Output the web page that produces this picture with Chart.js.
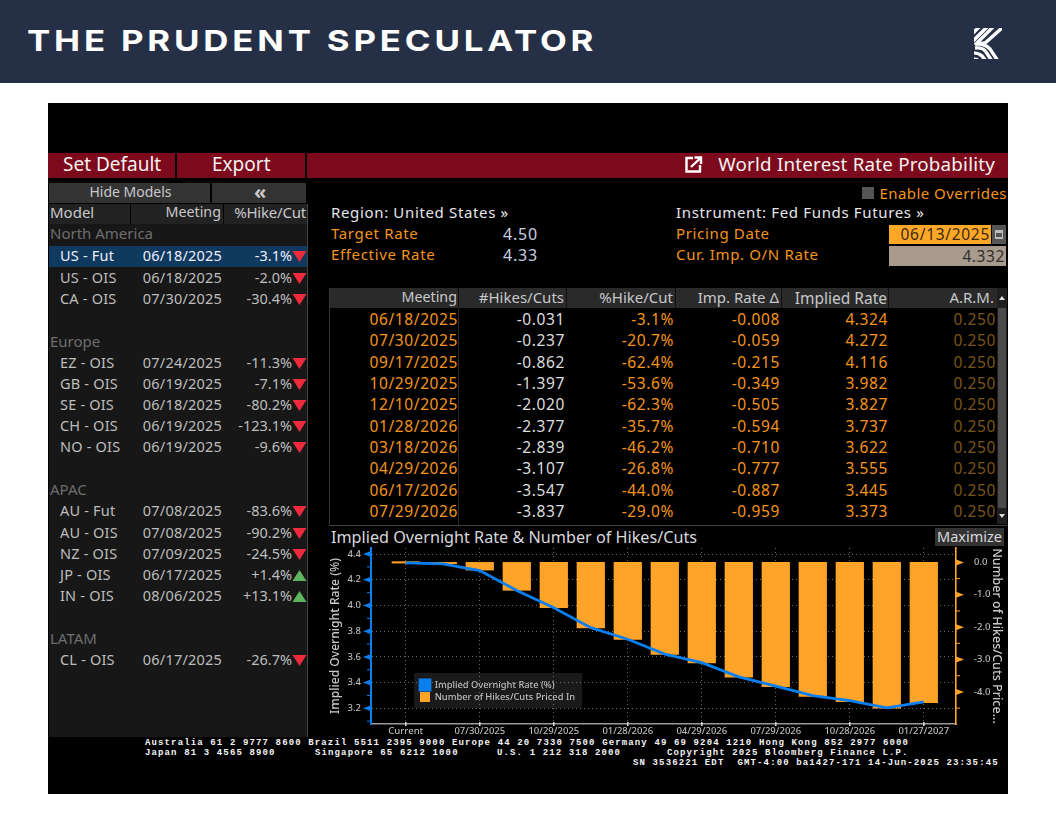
<!DOCTYPE html>
<html><head><meta charset="utf-8">
<script src="https://cdn.jsdelivr.net/npm/chart.js@4/dist/chart.umd.min.js"></script>
<style>
html,body{margin:0;padding:0;background:#fff;width:1056px;height:816px;overflow:hidden}
#hdr{position:absolute;left:0;top:0;width:1056px;height:83px;background:#252f46}
#brand{position:absolute;left:27px;top:22px;font:700 29px/38px Inter,sans-serif;color:#fff;letter-spacing:3.2px;white-space:nowrap;transform:scaleX(1.2);transform-origin:0 0}
#term{position:absolute;left:48px;top:103px;width:960px;height:691px;background:#000;overflow:hidden;filter:blur(.35px)}
#term .t{position:absolute;white-space:pre;font-family:"Noto Sans",sans-serif;line-height:20px;height:20px}
#term .b{position:absolute}
#cv{position:absolute;left:278px;top:442px;width:680px;height:193px}
</style></head><body>
<div id="hdr"><div id="brand">THE PRUDENT SPECULATOR</div>
<svg style="position:absolute;left:0;top:0" width="1056" height="83"><defs><clipPath id="k"><rect x="974" y="28" width="28" height="31"/></clipPath></defs>
<g clip-path="url(#k)" stroke="#fff" stroke-width="3.4" fill="none"><path d="M968 38L979 27M970 44L987 27M975 45L995 25M979 44Q985 44 990 49L998 61M975 48Q983 47 986 52L992 61M968 53Q978 52 982 56L986 61M970 58L978 60M1002 28L985 43L976 44"/></g></svg></div>
<div id="term"><canvas id="cv" width="680" height="193"></canvas></div>
<script>
/* ---- chart data ---- */
const categories=["Current","06/18/2025","07/30/2025","09/17/2025","10/29/2025","12/10/2025","01/28/2026","03/18/2026","04/29/2026","06/17/2026","07/29/2026","09/16/2026","10/28/2026","12/09/2026","01/27/2027"];
const impliedRate=[4.332,4.324,4.272,4.116,3.982,3.827,3.737,3.622,3.555,3.445,3.373,3.298,3.26,3.203,3.25];
const hikesCuts=[0,-0.031,-0.237,-0.862,-1.397,-2.02,-2.377,-2.839,-3.107,-3.547,-3.837,-4.14,-4.30,-4.50,-4.33];
const seriesNames=["Implied Overnight Rate (%)","Number of Hikes/Cuts Priced In"];
const leftTitle="Implied Overnight Rate (%)";
const rightTitle="Number of Hikes/Cuts Price...";
/* ---- table data ---- */
const meetings=["06/18/2025","07/30/2025","09/17/2025","10/29/2025","12/10/2025","01/28/2026","03/18/2026","04/29/2026","06/17/2026","07/29/2026"];
const tblHikes=["-0.031","-0.237","-0.862","-1.397","-2.020","-2.377","-2.839","-3.107","-3.547","-3.837"];
const tblPct=["-3.1%","-20.7%","-62.4%","-53.6%","-62.3%","-35.7%","-46.2%","-26.8%","-44.0%","-29.0%"];
const tblDelta=["-0.008","-0.059","-0.215","-0.349","-0.505","-0.594","-0.710","-0.777","-0.887","-0.959"];
const tblImplied=["4.324","4.272","4.116","3.982","3.827","3.737","3.622","3.555","3.445","3.373"];
const tblArm=["0.250","0.250","0.250","0.250","0.250","0.250","0.250","0.250","0.250","0.250"];
const tblHead=["Meeting","#Hikes/Cuts","%Hike/Cut","Imp. Rate Δ","Implied Rate","A.R.M."];
const modelNames=["US - Fut","US - OIS","CA - OIS","EZ - OIS","GB - OIS","SE - OIS","CH - OIS","NO - OIS","AU - Fut","AU - OIS","NZ - OIS","JP - OIS","IN - OIS","CL - OIS"];
const modelDates=["06/18/2025","06/18/2025","07/30/2025","07/24/2025","06/19/2025","06/18/2025","06/19/2025","06/19/2025","07/08/2025","07/08/2025","07/09/2025","06/17/2025","08/06/2025","06/17/2025"];
const modelPct=["-3.1%","-2.0%","-30.4%","-11.3%","-7.1%","-80.2%","-123.1%","-9.6%","-83.6%","-90.2%","-24.5%","+1.4%","+13.1%","-26.7%"];
const modelRowY=[256,278,299,363,384,405,426,447,511,533,554,575,596,660];
const regionNames=["North America","Europe","APAC","LATAM"];
const regionY=[234,342,490,639];

const T=document.getElementById('term');
const OX=48,OY=103;
function box(x,y,w,h,c){const d=document.createElement('div');d.className='b';d.style.cssText=`left:${x-OX}px;top:${y-OY}px;width:${w}px;height:${h}px;background:${c}`;T.appendChild(d);return d}
function txt(s,x,y,c,size,right,sp){const d=document.createElement('div');d.className='t';d.textContent=s;
 d.style.top=(y-OY-(size<15.3?11:10.4))+'px';d.style.color=c;d.style.fontSize=size+'px';if(sp)d.style.letterSpacing=sp+'px';
 if(right)d.style.right=(960-(x-OX))+'px';else d.style.left=(x-OX)+'px';T.appendChild(d);return d}
const OR='#f4941a',WH='#e6e6ea',GR='#c8c8cc',F=15,S=.65,D=.6;

/* top red bar */
box(48,153,127,25,'#7c0a1c');box(177,153,128,25,'#7c0a1c');box(307,153,701,25,'#7c0a1c');
txt('Set Default',63,164,'#f4f0f0',19);txt('Export',212,164,'#f4f0f0',19);
txt('World Interest Rate Probability',995,164,'#f4f0f0',18.8,true,.2);
T.insertAdjacentHTML('beforeend',`<svg style="position:absolute;left:${684-OX}px;top:${155-OY}px" width="20" height="20"><path d="M9 3H2.5V16.5H16V10" stroke="#fff" stroke-width="2.4" fill="none"/><path d="M7 12L16 3.5M10.5 2.5H17V9" stroke="#fff" stroke-width="2.4" fill="none"/></svg>`);

/* left panel */
box(49,204,258,533,'#171717');box(307,204,1,533,'#444');
box(49,183,161,20,'#333');box(212,183,94,20,'#333');
txt('Hide Models',130.5,193,GR,14).style.transform='translateX(-50%)';
txt('«',254,192,GR,20,false).style.fontWeight='700';
box(49,204,258,20,'#222');box(130,204,1,20,'#000');box(223,204,1,20,'#000');
txt('Model',50,213,GR,F);txt('Meeting',221,213,GR,14.3,true);txt('%Hike/Cut',306,213,GR,F,true,-.2);
box(49,246,258,21,'#0f3a5e');
regionNames.forEach((n,i)=>txt(n,50,regionY[i],'#6e6e6e',F));
modelNames.forEach((n,i)=>{const y=modelRowY[i],c=i==0?'#eef':'#bdbdbd';
 txt(n,60,y,c,14.5,false,.2);txt(modelDates[i],222,y,c,14.5,true,.2);
 txt(modelPct[i],292,y,c,14.5,true);
 const up=modelPct[i][0]=='+';
 T.insertAdjacentHTML('beforeend',`<svg style="position:absolute;left:${292-OX}px;top:${y-6-OY}px" width="15" height="13"><path d="${up?'M7.5 1L14.5 12H.5Z':'M.5 1H14.5L7.5 12Z'}" fill="${up?'#5fb55f':'#ee2a3c'}"/></svg>`);
});

/* info block */
txt('Region: United States »',331,213,WH,F,false,S);txt('Target Rate',331,234,OR,F,false,S);txt('Effective Rate',331,255,OR,F,false,S);
txt('4.50',538,234,'#c8d0e0',16,true,.8);txt('4.33',538,255,'#c8d0e0',16,true,.8);
txt('Instrument: Fed Funds Futures »',676,213,WH,F,false,S);txt('Pricing Date',676,234,OR,F,false,S);txt('Cur. Imp. O/N Rate',676,255,OR,F,false,S);
box(862,187,12,12,'#555');txt('Enable Overrides',1007,194,OR,F,true,.45);
box(889,225,102,19,'#ffa726');txt('06/13/2025',990,234,'#3a2a10',15.5,true,.7);
box(992,225,14,19,'#555');box(995,230,8,9,'#bbb');box(996,233,6,4,'#555');
box(889,246,117,20,'#a89a8c');txt('4.332',1005,256,'#2e2e2e',15.5,true,.6);

/* table */
box(330,288,677,20,'#2a2a2a');box(329,288,1,238,'#333');box(330,525,677,1,'#444');
[458,566,675,781,888].forEach(x=>box(x,288,1,20,'#111'));
box(458,308,1,217,'#2a2a2a');
const rights=[457,564,673,779,887,994];
const headSize=[14.3,15,15,15,15.5,15];
tblHead.forEach((h,i)=>txt(h,rights[i],298,GR,headSize[i],true));
const rowY=[319,340,362,383,404,426,447,468,490,511];
const cols=[[meetings,OR],[tblHikes,'#dcdcdc'],[tblPct,OR],[tblDelta,OR],[tblImplied,OR],[tblArm,'#7a5518']];
rowY.forEach((y,r)=>cols.forEach((c,j)=>txt(c[0][r],rights[j]+(j==5?2:1),y,c[1],15.5,true,D)));
box(997,288,10,236,'#1e1e1e');box(998,308,8,200,'#4a4a4a');
T.insertAdjacentHTML('beforeend',`<svg style="position:absolute;left:${998-OX}px;top:${294-OY}px" width="8" height="230"><path d="M1 6L4 2L7 6ZM1 220L4 224L7 220Z" fill="#ddd"/></svg>`);

/* chart head */
txt('Implied Overnight Rate & Number of Hikes/Cuts',331,537,'#d8d8dc',16.2);
box(935,528,69,18,'#333');txt('Maximize',969.5,537,'#d8d8dc',14.5).style.transform='translateX(-50%)';

/* footer */
const foot=[['Australia 61 2 9777 8600 Brazil 5511 2395 9000 Europe 44 20 7330 7500 Germany 49 69 9204 1210 Hong Kong 852 2977 6000',145,743.5],
['Japan 81 3 4565 8900',145,753.5],['Singapore 65 6212 1000',315,753.5],['U.S. 1 212 318 2000',497,753.5],['Copyright 2025 Bloomberg Finance L.P.',667,753.5],
['SN 3536221 EDT  GMT-4:00 ba1427-171 14-Jun-2025 23:35:45',633,763.5]];
foot.forEach(f=>{const d=txt(f[0],f[1],f[2],'#f4f4f4',9,false,1.13);d.style.fontFamily='"Liberation Mono",monospace';d.style.fontWeight='700';d.style.lineHeight='9px';d.style.height='9px';d.style.top=(f[2]-OY-4.5)+'px';});

/* chart */
const canvas=document.getElementById('cv');T.appendChild(canvas);
const BLUE='#0a7ff0',ORB='#ffa428';
const axisArt={id:'axisArt',afterDraw(ch){const c=ch.ctx;
 [['yL',-1,BLUE],['yR',1,ORB]].forEach(([id,dir,col])=>{const s=ch.scales[id],x=dir<0?s.right:s.left;
  c.save();c.fillStyle=col;c.strokeStyle=col;c.lineWidth=1;
  const tk=s.ticks.map(t=>t.value),d=tk[1]-tk[0];
  for(let v=tk[0]-d;v<=s.max;v+=d/2){ if(v<s.min)continue; const y=s.getPixelForValue(v);
   const major=tk.some(t=>Math.abs(t-v)<1e-6);
   if(major){c.beginPath();c.moveTo(x,y-3);c.lineTo(x,y+3);c.lineTo(x+dir*8,y);c.closePath();c.fill()}
   else{c.beginPath();c.moveTo(x,y);c.lineTo(x+dir*4,y);c.stroke()}
  }
  c.restore();});
 const xs=ch.scales.x;c.save();c.strokeStyle='#ddd';c.lineWidth=1.5;
 xs.ticks.forEach(t=>{const p=xs.getPixelForValue(t.value);c.beginPath();c.moveTo(p,xs.top-2);c.lineTo(p,xs.top+2);c.stroke()});c.restore();
}};
const legendBox={id:'legendBox',afterLayout(ch){const l=ch.legend;const w=l.width,h=l.height;
  l.left=92;l.top=133;l.right=l.left+w;l.bottom=l.top+h;}};
const legendBg={id:'legendBg',beforeDraw(ch){const c=ch.ctx;c.save();c.fillStyle='#1a1a1a';c.fillRect(414-326,673-545,168,35);c.restore()}};
const labelFont={family:'"Noto Sans",sans-serif',size:9.5,weight:'500'};
const noPad=s=>{s.paddingTop=0;s.paddingBottom=0;s.paddingLeft=0;s.paddingRight=0};
new Chart(canvas,{
 data:{datasets:[
  {type:'line',label:seriesNames[0],data:impliedRate.map((v,i)=>({x:i,y:v})),yAxisID:'yL',xAxisID:'x',borderColor:BLUE,backgroundColor:BLUE,borderWidth:2.8,pointRadius:0,tension:0,order:0},
  {type:'bar',label:seriesNames[1],data:hikesCuts.map((v,i)=>({x:i,y:v})),yAxisID:'yR',xAxisID:'x',backgroundColor:ORB,borderColor:'#d98a20',borderWidth:0,barThickness:27.6,minBarLength:1.4,order:1}
 ]},
 options:{responsive:false,animation:false,devicePixelRatio:1,
  layout:{padding:{top:3,left:0,right:0,bottom:0}},
  plugins:{tooltip:{enabled:false},
   legend:{position:'chartArea',align:'start',labels:{boxWidth:10,boxHeight:10,padding:2,color:'#bdbdbd',font:Object.assign({},labelFont,{size:9.3})}}},
  scales:{
   x:{type:'linear',position:'bottom',offset:false,min:-0.94,max:14.87,
     afterFit(s){s.height=14;noPad(s)},
     border:{color:'#9a9a9a',width:1.5,dash:[1,3]},
     grid:{offset:false,color:'#6a6a6a',drawTicks:false,lineWidth:1},
     ticks:{stepSize:2,includeBounds:false,maxRotation:0,autoSkip:false,padding:2,color:'#b9b9b9',font:labelFont,callback:v=>categories[v]}},
   yL:{type:'linear',position:'left',min:3.078,max:4.447,
     afterFit(s){s.width=45;noPad(s)},
     border:{color:BLUE,width:2,dash:[1,3]},
     grid:{color:'#6a6a6a',drawTicks:false,lineWidth:1},
     title:{display:true,text:leftTitle,color:'#c8c8c8',padding:{top:2,bottom:0},font:{family:'"Noto Sans",sans-serif',size:12.1,weight:'500'}},
     ticks:{stepSize:.2,includeBounds:false,padding:10,color:'#b9b9b9',font:labelFont,callback:v=>v.toFixed(1)}},
   yR:{type:'linear',position:'right',min:-4.99,max:0.444,
     afterFit(s){s.width=50;noPad(s)},
     border:{color:ORB,width:1.6},
     grid:{display:false},
     title:{display:true,text:rightTitle,color:'#c8c8c8',padding:{top:2,bottom:0},font:{family:'"Noto Sans",sans-serif',size:12.5,weight:'500'}},
     ticks:{stepSize:1,includeBounds:false,padding:10,color:'#b9b9b9',font:labelFont,callback:v=>v.toFixed(1)}}
  }},
 plugins:[axisArt,legendBg,legendBox]
});
</script></body></html>
